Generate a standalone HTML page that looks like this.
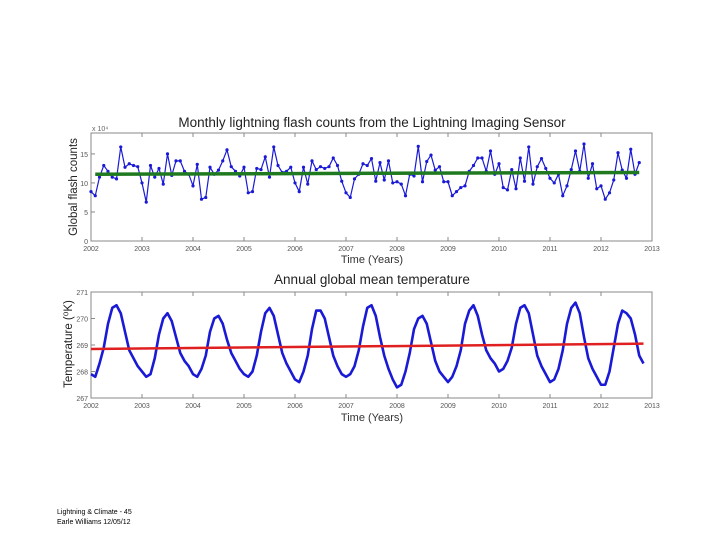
<!DOCTYPE html>
<html><head><meta charset="utf-8"><style>
body{margin:0;background:#fff;width:720px;height:540px;overflow:hidden;font-family:"Liberation Sans",sans-serif}
svg{position:absolute;left:0;top:0}
.foot{position:absolute;left:57px;font-size:7px;color:#000;line-height:10px}
</style></head><body>
<svg id="c" width="720" height="540"></svg>
<div class="foot" style="top:508px">Lightning &amp; Climate - 45<br>Earle Williams 12/05/12</div>
<script>
const years=[2002,2003,2004,2005,2006,2007,2008,2009,2010,2011,2012,2013];
const flashTicks=[0,5,10,15];
const tempTicks=[267,268,269,270,271];
const flashCounts=[8.5,7.8,11,13,12,11,10.7,16.2,12.7,13.3,13,12.8,
10,6.7,13,11,12.5,9.8,15,11.3,13.8,13.8,12,11.5,
9.5,13.2,7.2,7.5,12.7,11.5,12.2,13.8,15.7,12.8,12,11.2,
12.7,8.3,8.5,12.5,12.3,14.5,11,16.2,13,11.8,12,12.7,
10,8.5,12.7,9.8,13.8,12.3,12.8,12.5,12.8,14.3,13,10.3,
8.3,7.5,10.7,11.5,13.3,13,14.2,10.3,13.5,10.5,13.8,10,
10.2,9.8,7.8,11.5,11.2,16.3,10.2,13.7,14.8,12.2,12.8,10.2,
10.2,7.8,8.5,9.2,9.5,12,13,14.3,14.3,12,15.5,11.5,
13.3,9.2,8.8,12.3,9,14.3,10.3,16.2,9.8,12.8,14.2,12.5,
10.8,10,11.5,7.8,9.5,12.3,15.5,12,16.7,10.8,13.3,9,
9.5,7.2,8.3,10.5,15.2,12.2,10.8,15.8,11.5,13.5];
const flashTrend=[11.5,11.8];
const temps=[267.9,267.8,268.3,268.9,269.8,270.4,270.5,270.2,269.5,268.8,268.5,268.2,
268.0,267.8,267.9,268.5,269.4,270.0,270.2,269.9,269.3,268.7,268.4,268.2,
267.9,267.8,268.1,268.6,269.5,270.0,270.1,269.8,269.2,268.7,268.4,268.1,
267.9,267.8,268.0,268.6,269.5,270.2,270.4,270.1,269.4,268.7,268.3,268.0,
267.7,267.6,268.0,268.6,269.6,270.3,270.3,270.0,269.3,268.6,268.2,267.9,
267.8,267.9,268.2,268.8,269.7,270.4,270.5,270.1,269.3,268.6,268.1,267.7,
267.4,267.5,268.0,268.7,269.6,270.0,270.1,269.8,269.1,268.4,268.0,267.8,
267.6,267.8,268.2,268.8,269.8,270.3,270.5,270.1,269.4,268.8,268.5,268.3,
268.0,268.1,268.4,268.9,269.8,270.4,270.5,270.2,269.4,268.6,268.2,267.9,
267.6,267.7,268.1,268.8,269.8,270.4,270.6,270.2,269.3,268.5,268.1,267.8,
267.5,267.5,268.0,268.9,269.8,270.3,270.2,270.0,269.4,268.6,268.3];
const tempTrend=[268.85,269.05];

const svg=document.getElementById('c');const NS='http://www.w3.org/2000/svg';
function mk(t,a,p){const e=document.createElementNS(NS,t);for(const k in a)e.setAttribute(k,a[k]);(p||svg).appendChild(e);return e;}
const X0=91,X1=652;
const xs=v=>X0+(v-2002)/11*(X1-X0);
function panel(top,bot,ymin,ymax,ticks,name){
  const ys=v=>bot-(v-ymin)/(ymax-ymin)*(bot-top);
  const f=mk('rect',{x:X0,y:top,width:X1-X0,height:bot-top,fill:'#fff',stroke:'#888','stroke-width':1});
  
  ticks.forEach(t=>{const y=ys(t);mk('line',{x1:X0,x2:X0+4,y1:y,y2:y,stroke:'#888'});
    const tx=mk('text',{x:X0-3,y:y+3,'font-size':7,'text-anchor':'end',fill:'#555'});tx.textContent=t;
    });
  years.forEach(yr=>{const x=xs(yr);mk('line',{x1:x,x2:x,y1:bot,y2:bot-4,stroke:'#888'});mk('line',{x1:x,x2:x,y1:top,y2:top+4,stroke:'#888'});
    const tx=mk('text',{x:x,y:bot+10,'font-size':7,'text-anchor':'middle',fill:'#555'});tx.textContent=yr;
    });
  return ys;
}
// top panel
const ys1=panel(133,241,0,18.6,flashTicks,'flash');
let p=flashCounts.map((v,i)=>xs(2002+i/12)+','+ys1(v)).join(' ');
const tl=mk('polyline',{points:p,fill:'none',stroke:'#1a1ad6','stroke-width':1.2});

flashCounts.forEach((v,i)=>{const m=mk('circle',{cx:xs(2002+i/12),cy:ys1(v),r:1.6,fill:'#1a1ad6'});
  });
const g=mk('line',{x1:xs(2002+1/12),x2:xs(2002+(flashCounts.length-1)/12),y1:ys1(flashTrend[0]),y2:ys1(flashTrend[1]),stroke:'#1f7a1f','stroke-width':3.5});

// bottom panel
const ys2=panel(292,398,267,271,tempTicks,'temp');
p=temps.map((v,i)=>xs(2002+i/12)+','+ys2(v)).join(' ');
const bl=mk('polyline',{points:p,fill:'none',stroke:'#1a1ad6','stroke-width':2.6,'stroke-linejoin':'round'});

const r=mk('line',{x1:xs(2002),x2:xs(2002+(temps.length-1)/12),y1:ys2(tempTrend[0]),y2:ys2(tempTrend[1]),stroke:'#e02020','stroke-width':2.5});

function txt(s,a,name){const t=mk('text',a);t.textContent=s;return t;}
txt('Monthly lightning flash counts from the Lightning Imaging Sensor',{x:372,y:127,'font-size':13.5,'text-anchor':'middle',fill:'#222'},'top-chart-title');
txt('x 10\u2074',{x:92,y:131,'font-size':7,fill:'#666'},'y-axis-multiplier');
txt('Time (Years)',{x:372,y:263,'font-size':11,'text-anchor':'middle',fill:'#333'},'top-x-axis-title');
txt('Global flash counts',{x:0,y:0,'font-size':11.5,'text-anchor':'middle',fill:'#222',transform:'translate(77,187) rotate(-90)'},'top-y-axis-title');
txt('Annual global mean temperature',{x:372,y:284,'font-size':13.5,'text-anchor':'middle',fill:'#222'},'bottom-chart-title');
txt('Time (Years)',{x:372,y:421,'font-size':11,'text-anchor':'middle',fill:'#333'},'bottom-x-axis-title');
txt('Temperature (\u2070K)',{x:0,y:0,'font-size':11.5,'text-anchor':'middle',fill:'#222',transform:'translate(72,344) rotate(-90)'},'bottom-y-axis-title');
</script>
</body></html>
